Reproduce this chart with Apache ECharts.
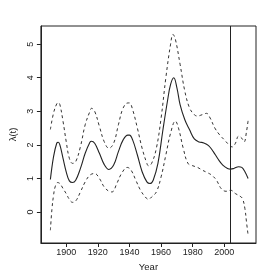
<!DOCTYPE html>
<html><head><meta charset="utf-8">
<script src="https://cdn.jsdelivr.net/npm/echarts@6/dist/echarts.min.js"></script>
<style>html,body{margin:0;padding:0;background:#fff}#c{width:266px;height:277px}</style>
</head><body><div id="c"></div>
<script>
// Estimated intensity (solid) and pointwise confidence bounds (dashed)
var meanYears = [1890,1892,1894,1895,1896,1898,1900,1902,1904,1906,1909,1912,1915,1916,1918,1921,1924,1927,1930,1933,1936,1939,1940,1942,1945,1948,1951,1953,1955,1958,1961,1964,1966,1968,1970,1972,1975,1978,1981,1984,1987,1990,1993,1996,1999,2002,2004,2006,2009,2011,2013,2015];
var meanVals  = [0.97,1.65,2.05,2.08,2.00,1.60,1.20,0.93,0.88,0.95,1.30,1.75,2.08,2.11,2.05,1.75,1.42,1.27,1.40,1.80,2.15,2.29,2.29,2.15,1.70,1.20,0.90,0.85,0.95,1.45,2.40,3.30,3.80,4.00,3.70,3.20,2.75,2.45,2.18,2.09,2.06,1.98,1.80,1.58,1.40,1.30,1.28,1.30,1.35,1.33,1.20,1.00];

var upperYears = [1890,1892,1894,1895,1896,1898,1900,1902,1904,1906,1909,1912,1915,1916,1918,1921,1924,1927,1930,1933,1936,1939,1940,1942,1945,1948,1951,1952,1954,1957,1960,1963,1966,1967.5,1969,1972,1975,1978,1981,1983,1986,1988.7,1991,1994,1997,2000,2003,2005,2007,2009,2011,2012.5,2014,2015];
var upperVals  = [2.46,2.95,3.22,3.26,3.20,2.70,2.10,1.60,1.45,1.50,1.95,2.60,3.00,3.09,3.00,2.55,2.10,1.90,2.05,2.60,3.10,3.25,3.25,3.05,2.50,1.90,1.45,1.38,1.45,1.90,2.80,4.00,5.00,5.29,5.15,4.40,3.60,3.10,2.90,2.86,2.90,2.94,2.80,2.50,2.30,2.15,2.00,1.94,2.05,2.26,2.20,2.09,2.40,2.72];

var lowerYears = [1890,1891,1892,1893,1894.5,1896,1898,1900,1902,1904,1906,1909,1912,1915,1918,1921,1924,1927,1929,1932,1935,1938.6,1941,1944,1947,1950,1952,1954,1957,1960,1963,1966,1969,1971,1974,1977,1980,1983,1986,1989,1992,1995,1998,2001,2004,2007,2010,2011.5,2013,2014,2015];
var lowerVals  = [-0.54,0.10,0.50,0.75,0.88,0.85,0.70,0.55,0.38,0.29,0.33,0.60,0.90,1.10,1.15,1.00,0.75,0.62,0.60,0.85,1.15,1.33,1.25,0.95,0.65,0.45,0.38,0.45,0.60,1.05,1.70,2.35,2.71,2.50,1.90,1.45,1.38,1.33,1.25,1.18,1.10,0.95,0.70,0.62,0.65,0.55,0.47,0.40,0.10,-0.30,-0.68];

var xTicks = [1900,1920,1940,1960,1980,2000];
var yTicks = [0,1,2,3,4,5];
var cutYear = 2004;

function pairs(xs, ys){ return xs.map(function(x,i){ return [x, ys[i]]; }); }

var font = 'Liberation Sans, Arial, Helvetica, sans-serif';
var chart = echarts.init(document.getElementById('c'), null, {renderer:'canvas'});
chart.setOption({
  animation:false,
  backgroundColor:'#fff',
  grid:{left:24, right:10, top:26, bottom:34, show:true, borderColor:'#222', borderWidth:1, containLabel:false},
  xAxis:{
    type:'value', min:1884, max:2020,
    name:'Year', nameLocation:'middle', nameGap:19,
    nameTextStyle:{fontFamily:font, fontSize:9.5, color:'#222'},
    axisLine:{show:true, onZero:false, lineStyle:{color:'#222', width:1}},
    axisTick:{show:true, inside:false, length:4, customValues:xTicks, lineStyle:{color:'#222'}},
    axisLabel:{show:true, customValues:xTicks, margin:5, fontFamily:font, fontSize:9, color:'#222',
      formatter:function(v){ return String(v); }},
    splitLine:{show:false}
  },
  yAxis:{
    type:'value', min:-0.92, max:5.54,
    name:'λ(t)', nameLocation:'middle', nameGap:20, nameRotate:90,
    nameTextStyle:{fontFamily:font, fontSize:9.5, color:'#222'},
    axisLine:{show:true, onZero:false, lineStyle:{color:'#222', width:1}},
    axisTick:{show:true, inside:false, length:4, customValues:yTicks, lineStyle:{color:'#222'}},
    axisLabel:{show:true, customValues:yTicks, rotate:90, margin:6, fontFamily:font, fontSize:9, color:'#222',
      formatter:function(v){ return String(v); }},
    splitLine:{show:false}
  },
  series:[
    {type:'line', data:pairs(upperYears, upperVals), smooth:0.4, showSymbol:false, silent:true,
     lineStyle:{color:'#333', width:1, type:[3,3]}},
    {type:'line', data:pairs(lowerYears, lowerVals), smooth:0.4, showSymbol:false, silent:true,
     lineStyle:{color:'#333', width:1, type:[3,3]}},
    {type:'line', data:pairs(meanYears, meanVals), smooth:0.4, showSymbol:false, silent:true,
     lineStyle:{color:'#222', width:1.1},
     markLine:{silent:true, symbol:['none','none'], label:{show:false},
       lineStyle:{color:'#222', width:1, type:'solid'},
       data:[{xAxis:cutYear}]}}
  ]
});
</script></body></html>
